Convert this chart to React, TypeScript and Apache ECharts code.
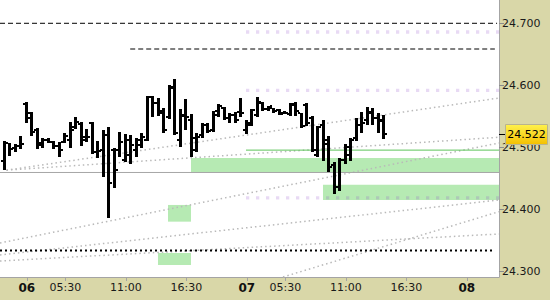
import React, { useEffect, useRef } from "react";
import * as echarts from "echarts";

// ---- OHLC bars (30-minute bars, index = bar number) ----
const opens = [24.479, 24.507, 24.499, 24.502, 24.570, 24.556, 24.528, 24.504, 24.512, 24.509,
  24.502, 24.509, 24.512, 24.533, 24.538, 24.512, 24.539, 24.493, 24.496, 24.520,
  24.496, 24.496, 24.480, 24.488, 24.496, 24.504, 24.512, 24.581, 24.572, 24.558,
  24.549, 24.596, 24.512, 24.552, 24.544, 24.496, 24.520, 24.536, 24.528, 24.552,
  24.564, 24.547, 24.552, 24.557, 24.528, 24.536, 24.552, 24.572, 24.562, 24.564,
  24.560, 24.555, 24.554, 24.570, 24.555, 24.568, 24.547, 24.488, 24.536, 24.512,
  24.472, 24.436, 24.480, 24.488, 24.515, 24.536, 24.544, 24.557, 24.547, 24.544];
const highs = [24.511, 24.508, 24.506, 24.519, 24.573, 24.557, 24.531, 24.516, 24.516, 24.511,
  24.509, 24.523, 24.541, 24.549, 24.541, 24.530, 24.541, 24.511, 24.528, 24.533,
  24.500, 24.525, 24.521, 24.520, 24.515, 24.524, 24.583, 24.583, 24.580, 24.563,
  24.600, 24.610, 24.562, 24.578, 24.554, 24.524, 24.539, 24.539, 24.558, 24.570,
  24.565, 24.555, 24.557, 24.579, 24.544, 24.562, 24.581, 24.573, 24.567, 24.564,
  24.562, 24.558, 24.572, 24.573, 24.556, 24.572, 24.550, 24.535, 24.545, 24.519,
  24.476, 24.483, 24.506, 24.515, 24.547, 24.557, 24.565, 24.563, 24.555, 24.552];
const lows = [24.464, 24.487, 24.493, 24.498, 24.540, 24.519, 24.498, 24.500, 24.507, 24.498,
  24.485, 24.507, 24.500, 24.530, 24.502, 24.509, 24.490, 24.483, 24.453, 24.386,
  24.434, 24.485, 24.476, 24.474, 24.485, 24.500, 24.511, 24.549, 24.550, 24.524,
  24.546, 24.520, 24.501, 24.528, 24.485, 24.492, 24.515, 24.523, 24.525, 24.549,
  24.544, 24.540, 24.540, 24.549, 24.522, 24.534, 24.549, 24.558, 24.559, 24.556,
  24.552, 24.554, 24.551, 24.551, 24.532, 24.535, 24.492, 24.484, 24.479, 24.461,
  24.425, 24.430, 24.473, 24.479, 24.511, 24.524, 24.537, 24.536, 24.524, 24.514];
const closes = [24.507, 24.498, 24.502, 24.505, 24.547, 24.525, 24.507, 24.512, 24.509, 24.502,
  24.496, 24.519, 24.528, 24.541, 24.517, 24.517, 24.493, 24.495, 24.520, 24.443,
  24.464, 24.509, 24.512, 24.504, 24.512, 24.517, 24.581, 24.571, 24.556, 24.528,
  24.597, 24.523, 24.551, 24.549, 24.515, 24.517, 24.536, 24.527, 24.558, 24.567,
  24.548, 24.552, 24.544, 24.555, 24.540, 24.560, 24.573, 24.562, 24.567, 24.559,
  24.554, 24.555, 24.568, 24.558, 24.535, 24.539, 24.496, 24.533, 24.506, 24.469,
  24.436, 24.480, 24.501, 24.512, 24.536, 24.540, 24.555, 24.547, 24.543, 24.522];

// ---- axis ticks ----
const xTickPos = [4.2, 11.2, 22.2, 33.2, 44.2, 51.2, 62.2, 73.2, 84.2];
const xTickText = ["06", "05:30", "11:00", "16:30", "07", "05:30", "11:00", "16:30", "08"];
const xDayLabels = ["06", "07", "08"];
const yTicks = [24.3, 24.4, 24.5, 24.6, 24.7];
const xRange = [-0.673, 90.05];
const yRange = [24.2915, 24.7375];

// ---- overlays (x in bar-index units, y in price) ----
const blackDashed = [
  { x1: -0.673, x2: 89.7, y: 24.7 },
  { x1: 23.0, x2: 89.3, y: 24.6586 },
];
const lavenderDotted = [
  { x1: 44.05, x2: 90.05, y: 24.686 },
  { x1: 44.05, x2: 90.05, y: 24.592 },
  { x1: 44.05, x2: 90.05, y: 24.419 },
];
const blackDotted = [{ x1: -0.673, x2: 89.2, y: 24.334 }];
const greyLevel = [{ x1: -0.673, x2: 90.05, y: 24.4598 }];
const greenLevel = [{ x1: 44.05, x2: 90.05, y: 24.4958 }];
const trendLines = [
  { x1: 0.5, y1: 24.4635, x2: 90.05, y2: 24.5797 },
  { x1: 0.5, y1: 24.4635, x2: 90.05, y2: 24.5165 },
  { x1: -0.673, y1: 24.3463, x2: 90.05, y2: 24.5073 },
  { x1: -0.673, y1: 24.327, x2: 90.05, y2: 24.4155 },
  { x1: -0.673, y1: 24.3173, x2: 90.05, y2: 24.3608 },
  { x1: 50.78, y1: 24.2915, x2: 90.05, y2: 24.3967 },
];
const greenZones = [
  { x1: 34.05, x2: 90.05, y1: 24.4598, y2: 24.4831 },
  { x1: 58.05, x2: 90.05, y1: 24.4155, y2: 24.4401 },
  { x1: 29.87, x2: 34.05, y1: 24.3806, y2: 24.4075 },
  { x1: 28.05, x2: 34.05, y1: 24.3109, y2: 24.3302 },
];
const lastClose = 24.522;

const FONT = "DejaVu Sans";

function hSeries(lines: { x1: number; x2: number; y: number }[], lineStyle: any, z: number) {
  return lines.map((l) => ({
    type: "line",
    data: [[l.x1, l.y], [l.x2, l.y]],
    symbol: "none",
    silent: true,
    z,
    lineStyle,
  }));
}

export default function App() {
  const ref = useRef<HTMLDivElement>(null);
  useEffect(() => {
    if (!ref.current) return;
    const chart = echarts.init(ref.current, null, { renderer: "svg" });
    const bars = opens.map((o, i) => [i, o, highs[i], lows[i], closes[i]]);
    const zones = greenZones.map((g) => [g.x1, g.x2, g.y1, g.y2]);
    const series: any[] = [
      {
        type: "custom",
        data: zones,
        z: 1,
        silent: true,
        encode: { x: [0, 1], y: [2, 3] },
        renderItem: (params: any, api: any) => {
          const a = api.coord([api.value(0), api.value(3)]);
          const b = api.coord([api.value(1), api.value(2)]);
          return {
            type: "rect",
            shape: { x: a[0], y: a[1], width: b[0] - a[0], height: b[1] - a[1] },
            style: { fill: "#b6eab3" },
          };
        },
      },
      ...trendLines.map((t) => ({
        type: "line",
        data: [[t.x1, t.y1], [t.x2, t.y2]],
        symbol: "none",
        silent: true,
        z: 2,
        lineStyle: { color: "#b9b9b9", width: 1.5, type: [1.5, 3] },
      })),
      ...hSeries(greyLevel, { color: "#a6a6a6", width: 1 }, 3),
      ...hSeries(greenLevel, { color: "#5ec45a", width: 1 }, 3),
      ...hSeries(blackDashed, { color: "#000", width: 1, type: [5, 3] }, 3),
      ...hSeries(blackDotted, { color: "#000", width: 2, type: [2, 3] }, 3),
      ...hSeries(lavenderDotted, { color: "rgba(140,70,200,0.2)", width: 3.3, type: [3.3, 6.7] }, 3),
      {
        type: "custom",
        data: bars,
        z: 5,
        silent: true,
        encode: { x: 0, y: [1, 2, 3, 4] },
        renderItem: (params: any, api: any) => {
          const i = api.value(0);
          const o = api.coord([i, api.value(1)]);
          const h = api.coord([i, api.value(2)]);
          const l = api.coord([i, api.value(3)]);
          const c = api.coord([i, api.value(4)]);
          const left = Math.round(h[0]) - 1;
          const top = Math.round(h[1]);
          const bottom = Math.max(top + 1, Math.round(l[1]));
          return {
            type: "group",
            children: [
              { type: "rect", shape: { x: left, y: top, width: 3, height: bottom - top }, style: { fill: "#000" } },
              { type: "rect", shape: { x: left - 2, y: Math.round(o[1]) - 1, width: 2, height: 2 }, style: { fill: "#000" } },
              { type: "rect", shape: { x: left + 3, y: Math.round(c[1]) - 1, width: 2, height: 2 }, style: { fill: "#000" } },
            ],
          };
        },
      },
    ];

    chart.setOption({
      animation: false,
      backgroundColor: "#d9d7a8",
      grid: {
        left: 0, top: 0, right: 51, bottom: 23,
        show: true, backgroundColor: "#ffffff", borderWidth: 0,
      },
      xAxis: {
        type: "value",
        min: xRange[0],
        max: xRange[1],
        splitLine: { show: false },
        axisLine: { show: true, onZero: false, lineStyle: { color: "#a4a4a4", width: 1 } },
        axisTick: { show: true, customValues: xTickPos, length: 4, lineStyle: { color: "#a4a4a4" } },
        axisLabel: {
          customValues: xTickPos,
          margin: 5,
          color: "#1a1a1a",
          fontFamily: FONT,
          fontSize: 11,
          formatter: (v: number) => {
            let k = 0;
            let best = 1e9;
            xTickPos.forEach((p, j) => {
              const d = Math.abs(p - v);
              if (d < best) { best = d; k = j; }
            });
            const t = xTickText[k];
            return xDayLabels.includes(t) ? "{b|" + t + "}" : t;
          },
          rich: { b: { fontWeight: "bold", fontFamily: FONT, fontSize: 12, color: "#111" } },
        },
      },
      yAxis: {
        type: "value",
        position: "right",
        min: yRange[0],
        max: yRange[1],
        splitLine: { show: false },
        axisLine: { show: true, onZero: false, lineStyle: { color: "#a4a4a4", width: 1 } },
        axisTick: { show: true, customValues: yTicks, length: 5, lineStyle: { color: "#8c8c8c" } },
        axisLabel: {
          customValues: yTicks,
          margin: 3,
          color: "#1a1a1a",
          fontFamily: FONT,
          fontSize: 11,
          formatter: (v: number) => v.toFixed(3),
        },
      },
      series,
    });

    const py = chart.convertToPixel({ yAxisIndex: 0 }, lastClose) as number;
    chart.setOption({
      graphic: [
        {
          type: "line",
          z: 100,
          shape: { x1: 499, y1: Math.round(py) + 0.5, x2: 505, y2: Math.round(py) + 0.5 },
          style: { stroke: "#000", lineWidth: 1 },
        },
        {
          type: "rect",
          z: 100,
          shape: { x: 505.5, y: Math.round(py) - 9.5, width: 42, height: 20 },
          style: {
            fill: new echarts.graphic.LinearGradient(0, 0, 0, 1, [
              { offset: 0, color: "#fff24d" },
              { offset: 1, color: "#f3c000" },
            ]),
            stroke: "#b9b48e",
            lineWidth: 1,
          },
        },
        {
          type: "text",
          z: 101,
          x: 526.5,
          y: Math.round(py) + 0.5,
          style: {
            text: lastClose.toFixed(3),
            fill: "#000",
            font: "11px 'DejaVu Sans'",
            align: "center",
            verticalAlign: "middle",
          },
        },
      ],
    });

    return () => chart.dispose();
  }, []);
  return (
    <div
      ref={ref}
      style={{ position: "absolute", left: 0, top: 0, width: 550, height: 300 }}
    />
  );
}
